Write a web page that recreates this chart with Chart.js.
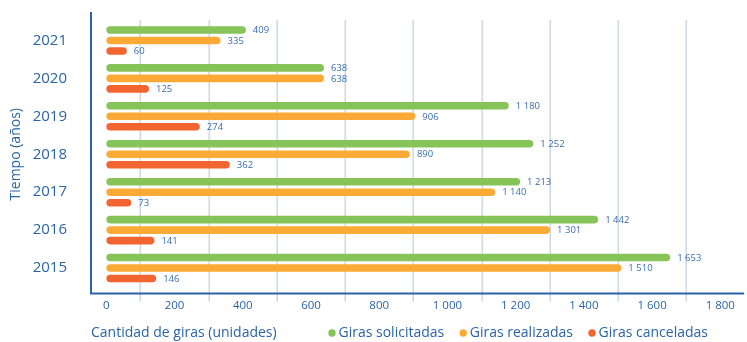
<!DOCTYPE html>
<html>
<head>
<meta charset="utf-8">
<script src="https://cdn.jsdelivr.net/npm/chart.js@4.4.1/dist/chart.umd.min.js"></script>
<style>
  html, body { margin: 0; padding: 0; background: #ffffff; }
  #wrap { width: 747px; height: 342px; position: relative; }
</style>
</head>
<body>
<div id="wrap"><canvas id="chart"></canvas></div>
<script>
// Giras por año (unidades)
const years = ['2015', '2016', '2017', '2018', '2019', '2020', '2021'];
const girasSolicitadas = [1653, 1442, 1213, 1252, 1180, 638, 409];
const girasRealizadas  = [1510, 1301, 1140, 890, 906, 638, 335];
const girasCanceladas  = [146, 141, 73, 362, 274, 125, 60];
const seriesNames = ['Giras solicitadas', 'Giras realizadas', 'Giras canceladas'];
const xTickValues = [0, 200, 400, 600, 800, 1000, 1200, 1400, 1600, 1800];

const seriesColors = ['#86c45a', '#fbab35', '#f26430'];
const textBlue = '#2a64a6';
const labelBlue = '#3a6db0';
const axisBlue = '#2a63a5';
const gridColor = '#cdd8e5';
const FONT = "'Open Sans', 'Noto Sans', sans-serif";

// Thousands separated by a space: 1 653
const fmt = v => String(v).replace(/\B(?=(\d{3})+(?!\d))/g, ' ');

// Grid lines sit half a step between the labelled ticks; axis lines frame the plot
const frame = {
  id: 'frame',
  beforeDatasetsDraw(chart) {
    const { ctx, chartArea, scales: { x } } = chart;
    const step = xTickValues[1] - xTickValues[0];
    ctx.save();
    ctx.strokeStyle = gridColor;
    ctx.lineWidth = 1.5;
    xTickValues.forEach(v => {
      const val = v + step / 2;
      if (val > x.max) return;
      const px = Math.round(x.getPixelForValue(val)) + 0.25;
      ctx.beginPath();
      ctx.moveTo(px, chartArea.top - 1.5);
      ctx.lineTo(px, chartArea.bottom + 14.5);
      ctx.stroke();
    });
    ctx.strokeStyle = axisBlue;
    ctx.lineWidth = 2;
    const axisY = chartArea.bottom + 6.5;
    ctx.beginPath();
    ctx.moveTo(chartArea.left, chartArea.top - 9.5);
    ctx.lineTo(chartArea.left, axisY);
    ctx.lineTo(chartArea.right, axisY);
    ctx.stroke();
    ctx.restore();
  }
};

// Value printed just past the end of every bar
const valueLabels = {
  id: 'valueLabels',
  afterDatasetsDraw(chart) {
    const { ctx } = chart;
    ctx.save();
    ctx.font = `9.5px ${FONT}`;
    ctx.fillStyle = labelBlue;
    ctx.textAlign = 'left';
    ctx.textBaseline = 'middle';
    chart.data.datasets.forEach((ds, di) => {
      chart.getDatasetMeta(di).data.forEach((bar, i) => {
        ctx.fillText(fmt(ds.data[i]), bar.x + 7, bar.y + 0.5);
      });
    });
    ctx.restore();
  }
};

// Series key on the same line as the horizontal axis title
const inlineLegend = {
  id: 'inlineLegend',
  afterDraw(chart) {
    const { ctx, chartArea, scales: { x } } = chart;
    const y = x.bottom - 9;
    let cx = chartArea.left + 241;
    ctx.save();
    ctx.font = `14px ${FONT}`;
    ctx.textBaseline = 'middle';
    ctx.textAlign = 'left';
    chart.data.datasets.forEach(ds => {
      ctx.fillStyle = ds.backgroundColor;
      ctx.beginPath();
      ctx.arc(cx, y, 3.7, 0, Math.PI * 2);
      ctx.fill();
      ctx.fillStyle = textBlue;
      ctx.fillText(ds.label, cx + 6.5, y);
      cx += 6.5 + ctx.measureText(ds.label).width + 19;
    });
    ctx.restore();
  }
};

const barStyle = {
  borderRadius: 4,
  borderSkipped: false,
  categoryPercentage: 0.83,
  barPercentage: 0.72
};

new Chart(document.getElementById('chart'), {
  type: 'bar',
  data: {
    labels: years,
    datasets: [
      Object.assign({ label: seriesNames[0], data: girasSolicitadas, backgroundColor: seriesColors[0] }, barStyle),
      Object.assign({ label: seriesNames[1], data: girasRealizadas, backgroundColor: seriesColors[1] }, barStyle),
      Object.assign({ label: seriesNames[2], data: girasCanceladas, backgroundColor: seriesColors[2] }, barStyle)
    ]
  },
  options: {
    indexAxis: 'y',
    responsive: true,
    maintainAspectRatio: false,
    animation: false,
    devicePixelRatio: 1,
    layout: { padding: { top: 21.5, right: 2, bottom: 0, left: 0 } },
    plugins: {
      legend: { display: false },
      tooltip: { enabled: false }
    },
    scales: {
      x: {
        type: 'linear',
        min: -45,
        max: 1870,
        grid: { display: false, drawTicks: false },
        border: { display: false },
        afterBuildTicks: scale => { scale.ticks = xTickValues.map(v => ({ value: v })); },
        ticks: {
          padding: 12,
          maxRotation: 0,
          autoSkip: false,
          color: textBlue,
          font: { family: FONT, size: 11.5 },
          callback: v => fmt(v)
        },
        title: {
          display: true,
          text: 'Cantidad de giras (unidades)',
          align: 'start',
          color: textBlue,
          font: { family: FONT, size: 14 },
          padding: { top: 0, bottom: 1 }
        },
        afterFit: scale => { scale.height = 55; }
      },
      y: {
        type: 'category',
        reverse: true,
        grid: { display: false, drawTicks: false },
        border: { display: false },
        ticks: {
          padding: 24,
          color: textBlue,
          font: { family: FONT, size: 15 }
        },
        title: {
          display: true,
          text: 'Tiempo (años)',
          color: textBlue,
          font: { family: FONT, size: 14 },
          padding: { top: 8, bottom: 0 }
        },
        afterFit: scale => {
          scale.width = 91;
          // the label gap is horizontal only; keep it out of the vertical layout
          scale.paddingTop = 0;
          scale.paddingBottom = 0;
        }
      }
    }
  },
  plugins: [frame, valueLabels, inlineLegend]
});
</script>
</body>
</html>
